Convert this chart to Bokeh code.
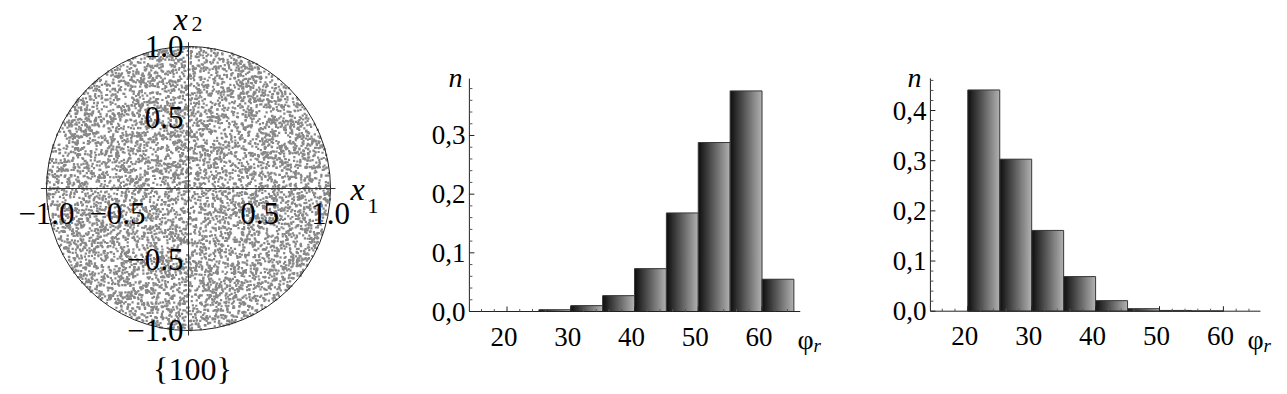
import numpy as np
from bokeh.plotting import figure
from bokeh.layouts import row
from bokeh.models import Range1d
from bokeh.embed import file_html
from bokeh.resources import INLINE
from bokeh.core.properties import value

# ---------------- data ----------------
# Panel 1: unit-disk scatter (orientation {100})
disk_ticks = [-1.0, -0.5, 0.5, 1.0]
disk_tick_labels = ["\u22121.0", "\u22120.5", "0.5", "1.0"]
disk_caption = "{100}"
n_disk_points = 7500
# The thousands of individual dots cannot be read off the picture; they are a
# uniform-density texture over the unit disk, reproduced with a fixed seed.
_rng = np.random.default_rng(100)
_r = np.sqrt(_rng.random(n_disk_points))
_t = 2 * np.pi * _rng.random(n_disk_points)
disk_x = _r * np.cos(_t)
disk_y = _r * np.sin(_t)

# Panels 2 and 3: histograms of phi_r (bin width 5)
bin_left = [20, 25, 30, 35, 40, 45, 50, 55, 60]
bin_width = 5
freq_mid = [0.0, 0.003, 0.010, 0.027, 0.073, 0.168, 0.288, 0.376, 0.055]
freq_right = [0.441, 0.303, 0.161, 0.069, 0.021, 0.005, 0.0015, 0.0005, 0.0]

x_ticks = [20, 30, 40, 50, 60]
x_tick_labels = ["20", "30", "40", "50", "60"]
y_ticks_mid = [0.0, 0.1, 0.2, 0.3]
y_ticks_right = [0.0, 0.1, 0.2, 0.3, 0.4]

SERIF = value("Liberation Serif")
H = 392


def txt(p, x, y, s, size, align="left", italic=False):
    p.text(x=[x], y=[y], text=[s], text_align=align, text_baseline="middle",
           text_font=SERIF, text_font_style="italic" if italic else "normal",
           text_font_size=size, text_color="black")


# ---------------- panel 1 ----------------
S = 142.0          # px per unit
cx, cy = 188.0, 188.0
W1 = 400
p1 = figure(width=W1, height=H,
            x_range=Range1d(-cx / S, (W1 - cx) / S),
            y_range=Range1d(-(H - cy) / S, cy / S),
            output_backend="svg", toolbar_location=None,
            x_axis_location=None, y_axis_location=None,
            min_border=0, title=None, outline_line_color=None)
p1.grid.visible = False
p1.scatter(disk_x, disk_y, marker="square", size=2.2,
           fill_color="#878787", line_color=None)
p1.circle(x=[0], y=[0], radius=1.0, fill_color=None,
          line_color="#222222", line_width=1)
p1.segment(x0=[-1.04, 0], y0=[0, -1.035], x1=[1.035, 0], y1=[0, 1.03],
           line_color="#333333", line_width=1)
p1.text(x=disk_ticks, y=[-0.176] * 4, text=disk_tick_labels,
        text_align="center", text_baseline="middle",
        text_font=SERIF, text_font_size="31px", text_color="black")
p1.text(x=[-0.035] * 4, y=disk_ticks, text=disk_tick_labels,
        text_align="right", text_baseline="middle",
        text_font=SERIF, text_font_size="31px", text_color="black")
txt(p1, -0.106, 1.197, "x", "32px", italic=True)
txt(p1, 0.021, 1.155, "2", "22px")
txt(p1, 1.141, -0.007, "x", "32px", italic=True)
txt(p1, 1.261, -0.120, "1", "22px")
txt(p1, 0.028, -1.2746, disk_caption, "32px", align="center")


# ---------------- histogram helper ----------------
def hist_panel(width, x_ref, px_ref, sx, y0px, sy, ax_x, ymax, freqs, yticks,
               n_pos, phi_pos):
    """x_ref maps to figure pixel px_ref; sx px/unit; y=0 at y0px from top."""
    xr = (x_ref - px_ref / sx, x_ref + (width - px_ref) / sx)
    yr = (-(H - y0px) / sy, y0px / sy)
    p = figure(width=width, height=H, x_range=Range1d(*xr),
               y_range=Range1d(*yr), output_backend="svg",
               toolbar_location=None, title=None, min_border=0,
               x_axis_location=None, y_axis_location=None,
               outline_line_color=None)
    p.grid.visible = False
    xmin, xmax = ax_x
    # gradient bars made of thin vertical strips
    nstrip = 30
    L, R, T, C = [], [], [], []
    for b, f in zip(bin_left, freqs):
        if f <= 0:
            continue
        for i in range(nstrip):
            t = (i + 0.5) / nstrip
            g = int(round(14 + (178 - 14) * t))
            L.append(b + bin_width * i / nstrip)
            ext = 0.0 if i == nstrip - 1 else 1.2 / sx
            R.append(b + bin_width * (i + 1) / nstrip + ext)
            T.append(f)
            C.append("#%02x%02x%02x" % (g, g, g))
    p.quad(left=L, right=R, top=T, bottom=0, fill_color=C, line_color=None)
    bl = [b for b, f in zip(bin_left, freqs) if f > 0]
    bt = [f for f in freqs if f > 0]
    p.quad(left=bl, right=[b + bin_width for b in bl], top=bt, bottom=0,
           fill_color=None, line_color="#3a3a3a", line_width=1)

    # axes (Mathematica style, crossing at (xmin, 0))
    p.segment(x0=[xmin, xmin], y0=[0, 0], x1=[xmax, xmin], y1=[0, ymax],
              line_color="#222222", line_width=1)
    minor_y = [round(0.02 * k, 2) for k in range(int(ymax / 0.02) + 1)
               if round(0.02 * k, 2) not in yticks]
    p.segment(x0=[xmin] * len(yticks), y0=yticks,
              x1=[xmin + 5 / sx] * len(yticks), y1=yticks,
              line_color="#222222", line_width=1)
    p.segment(x0=[xmin] * len(minor_y), y0=minor_y,
              x1=[xmin + 3 / sx] * len(minor_y), y1=minor_y,
              line_color="#555555", line_width=1)
    minor_x = [v for v in range(16, 66, 2) if v not in x_ticks]
    p.segment(x0=x_ticks, y0=[0] * len(x_ticks), x1=x_ticks,
              y1=[5 / sy] * len(x_ticks), line_color="#222222", line_width=1)
    p.segment(x0=minor_x, y0=[0] * len(minor_x), x1=minor_x,
              y1=[2.5 / sy] * len(minor_x), line_color="#555555",
              line_width=1)
    # tick labels
    p.text(x=[xmin - 4 / sx] * len(yticks), y=yticks,
           text=[("%.1f" % t).replace(".", ",") for t in yticks],
           text_align="right", text_baseline="middle", text_font=SERIF,
           text_font_size="27px", text_color="black")
    p.text(x=x_ticks, y=[-25 / sy] * len(x_ticks), text=x_tick_labels,
           x_offset=-3, text_align="center", text_baseline="middle",
           text_font=SERIF, text_font_size="27px", text_color="black")
    # axis labels
    txt(p, n_pos[0], n_pos[1], "n", "28px", italic=True)
    txt(p, phi_pos[0], phi_pos[1], "\u03c6", "28px")
    txt(p, phi_pos[0] + 16 / sx, phi_pos[1] - 6 / sy, "r", "19px",
        italic=True)
    return p


# panel 2: figure spans image x 400..860
p2 = hist_panel(460, 40, 634 - 400, 6.375, 311, 586.7, (14.1, 66.0), 0.397,
                freq_mid, y_ticks_mid, (10.82, 0.3988), (65.57, -0.0477))
# panel 3: figure spans image x 860..1286
p3 = hist_panel(426, 20, 967.3 - 860, 6.39, 310.7, 501.7, (14.15, 65.8),
                0.464, freq_right, y_ticks_right, (10.56, 0.4658),
                (63.77, -0.0564))

layout = row(p1, p2, p3)
open("out.html", "w").write(file_html(layout, INLINE))
